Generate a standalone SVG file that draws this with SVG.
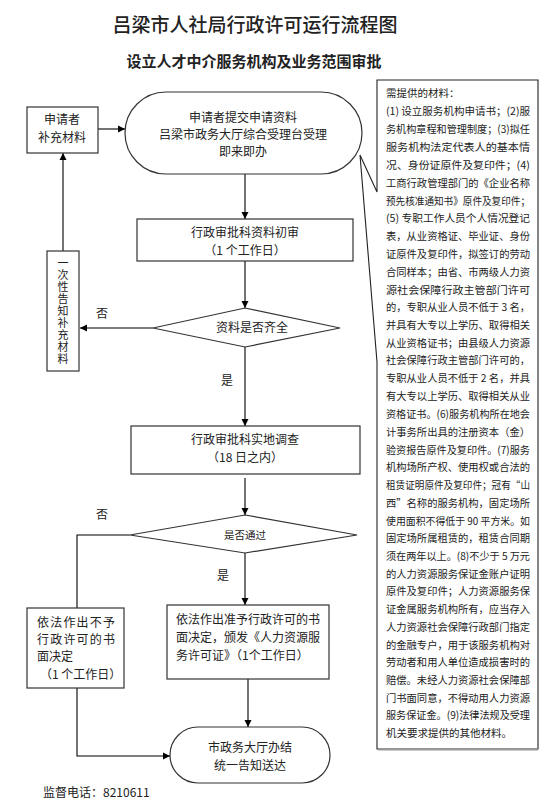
<svg xmlns="http://www.w3.org/2000/svg" width="556" height="807" viewBox="0 0 556 807">
<defs>
<marker id="ah" markerWidth="8" markerHeight="8" refX="7" refY="4" orient="auto" markerUnits="userSpaceOnUse">
<path d="M0,0.5 L7,4 L0,7.5 Z" fill="#000"/>
</marker>
<style>
text{font-family:"Noto Sans CJK SC","Noto Sans",sans-serif;fill:#222}
.t{font-size:12px;text-anchor:middle}
.v{font-size:11px;writing-mode:vertical-rl;letter-spacing:1px}
.s{font-size:12px}
.r{font-size:10.5px}
.box{fill:#fff;stroke:#333;stroke-width:1.2}
.ln{fill:none;stroke:#000;stroke-width:1.1}
</style>
</defs>
<rect width="556" height="807" fill="#fff"/>
<text x="255" y="32" style="font-size:19px;text-anchor:middle;font-weight:500">吕梁市人社局行政许可运行流程图</text>
<text x="254" y="67" style="font-size:15px;text-anchor:middle;font-weight:700">设立人才中介服务机构及业务范围审批</text>

<g id="connectors">
<line class="ln" x1="98" y1="129" x2="125" y2="129" marker-end="url(#ah)"/>
<line class="ln" x1="245" y1="174" x2="245" y2="219" marker-end="url(#ah)"/>
<line class="ln" x1="245" y1="261" x2="245" y2="308" marker-end="url(#ah)"/>
<line class="ln" x1="153" y1="328" x2="80" y2="328" marker-end="url(#ah)"/>
<line class="ln" x1="63" y1="251" x2="63" y2="153" marker-end="url(#ah)"/>
<line class="ln" x1="245" y1="347" x2="245" y2="426" marker-end="url(#ah)"/>
<line class="ln" x1="245" y1="478" x2="245" y2="515" marker-end="url(#ah)"/>
<polyline class="ln" points="130,535 77,535 77,608"/>
<line class="ln" x1="245" y1="553" x2="245" y2="605" marker-end="url(#ah)"/>
<line class="ln" x1="248" y1="679" x2="248" y2="727" marker-end="url(#ah)"/>
<polyline class="ln" points="77,688 77,756 170,756" marker-end="url(#ah)"/>
<text x="102" y="318" class="t">否</text>
<text x="227" y="385" class="t">是</text>
<text x="102" y="519" class="t">否</text>
<text x="223" y="580" class="t">是</text>
</g>

<g id="supplement">
<rect class="box" x="27" y="107" width="71" height="46"/>
<text x="62" y="124" class="t">申请者</text>
<text x="62" y="142" class="t">补充材料</text>
</g>

<g id="submit">
<rect class="box" x="125" y="92" width="237" height="82" rx="41" ry="41"/>
<text x="243" y="122" class="t">申请者提交申请资料</text>
<text x="243" y="139" class="t">吕梁市政务大厅综合受理台受理</text>
<text x="243" y="156" class="t">即来即办</text>
</g>

<g id="review">
<rect class="box" x="137" y="219" width="216" height="42"/>
<text x="245" y="237" class="t">行政审批科资料初审</text>
<text x="245" y="255" class="t">（1 个工作日）</text>
</g>

<g id="complete">
<polygon class="box" points="245,308 340,328 245,347 153,328"/>
<text x="252" y="332" class="t">资料是否齐全</text>
</g>

<g id="notify">
<rect class="box" x="47" y="251" width="32" height="120"/>
<text x="63" y="257" class="v">一次性告知补充材料</text>
</g>

<g id="survey">
<rect class="box" x="131" y="426" width="229" height="48"/>
<text x="245" y="444" class="t">行政审批科实地调查</text>
<text x="245" y="462" class="t">（18 日之内）</text>
</g>

<g id="pass">
<polygon class="box" points="245,515 357,535 245,553 130,535"/>
<text x="245" y="539" class="t" style="font-size:10.5px">是否通过</text>
</g>

<g id="deny">
<rect class="box" x="27" y="608" width="97" height="80"/>
<text x="37" y="627" class="s" textLength="78" lengthAdjust="spacing">依法作出不予</text>
<text x="37" y="644" class="s" textLength="78" lengthAdjust="spacing">行政许可的书</text>
<text x="37" y="661" class="s">面决定</text>
<text x="40" y="679" class="s">（1 个工作日）</text>
</g>

<g id="grant">
<rect class="box" x="167" y="605" width="162" height="74"/>
<text x="176" y="624" class="s" textLength="144" lengthAdjust="spacing">依法作出准予行政许可的书</text>
<text x="176" y="642" class="s" textLength="144" lengthAdjust="spacing">面决定，颁发《人力资源服</text>
<text x="176" y="660" class="s">务许可证》（1个工作日）</text>
</g>

<g id="finish">
<rect class="box" x="170" y="727" width="160" height="56" rx="28" ry="28"/>
<text x="250" y="752" class="t">市政务大厅办结</text>
<text x="250" y="770" class="t">统一告知送达</text>
</g>

<text x="43" y="797" class="s">监督电话：8210611</text>

<g id="materials">
<path d="M377,192 L377,80 L538,80 L538,749 L377,749 L377,362 L360,155 Z" fill="#fff" stroke="#222" stroke-width="1.1"/>
<line x1="378" y1="749.5" x2="538" y2="749.5" stroke="#999" stroke-width="2"/>
<g class="r">
<text x="386" y="97">需提供的材料：</text>
<text x="386" y="115" textLength="144" lengthAdjust="spacingAndGlyphs">(1) 设立服务机构申请书；(2)服</text>
<text x="386" y="133" textLength="144" lengthAdjust="spacingAndGlyphs">务机构章程和管理制度；(3)拟任</text>
<text x="386" y="151" textLength="144" lengthAdjust="spacingAndGlyphs">服务机构法定代表人的基本情</text>
<text x="386" y="169" textLength="144" lengthAdjust="spacingAndGlyphs">况、身份证原件及复印件；(4)</text>
<text x="386" y="187" textLength="144" lengthAdjust="spacingAndGlyphs">工商行政管理部门的《企业名称</text>
<text x="386" y="205" textLength="144" lengthAdjust="spacingAndGlyphs">预先核准通知书》原件及复印件；</text>
<text x="386" y="222" textLength="144" lengthAdjust="spacingAndGlyphs">(5) 专职工作人员个人情况登记</text>
<text x="386" y="240" textLength="144" lengthAdjust="spacingAndGlyphs">表，从业资格证、毕业证、身份</text>
<text x="386" y="258" textLength="144" lengthAdjust="spacingAndGlyphs">证原件及复印件，拟签订的劳动</text>
<text x="386" y="276" textLength="144" lengthAdjust="spacingAndGlyphs">合同样本；由省、市两级人力资</text>
<text x="386" y="294" textLength="144" lengthAdjust="spacingAndGlyphs">源社会保障行政主管部门许可</text>
<text x="386" y="311" textLength="144" lengthAdjust="spacingAndGlyphs">的，专职从业人员不低于 3 名，</text>
<text x="386" y="329" textLength="144" lengthAdjust="spacingAndGlyphs">并具有大专以上学历、取得相关</text>
<text x="386" y="347" textLength="144" lengthAdjust="spacingAndGlyphs">从业资格证书；由县级人力资源</text>
<text x="386" y="364" textLength="144" lengthAdjust="spacingAndGlyphs">社会保障行政主管部门许可的，</text>
<text x="386" y="382" textLength="144" lengthAdjust="spacingAndGlyphs">专职从业人员不低于 2 名，并具</text>
<text x="386" y="400" textLength="144" lengthAdjust="spacingAndGlyphs">有大专以上学历、取得相关从业</text>
<text x="386" y="418" textLength="144" lengthAdjust="spacingAndGlyphs">资格证书。(6)服务机构所在地会</text>
<text x="386" y="436" textLength="144" lengthAdjust="spacingAndGlyphs">计事务所出具的注册资本（金）</text>
<text x="386" y="454" textLength="144" lengthAdjust="spacingAndGlyphs">验资报告原件及复印件。(7)服务</text>
<text x="386" y="471" textLength="144" lengthAdjust="spacingAndGlyphs">机构场所产权、使用权或合法的</text>
<text x="386" y="489" textLength="144" lengthAdjust="spacingAndGlyphs">租赁证明原件及复印件；冠有“山</text>
<text x="386" y="507" textLength="144" lengthAdjust="spacingAndGlyphs">西”名称的服务机构，固定场所</text>
<text x="386" y="525" textLength="144" lengthAdjust="spacingAndGlyphs">使用面积不得低于 90 平方米。如</text>
<text x="386" y="542" textLength="144" lengthAdjust="spacingAndGlyphs">固定场所属租赁的，租赁合同期</text>
<text x="386" y="560" textLength="144" lengthAdjust="spacingAndGlyphs">须在两年以上。(8)不少于 5 万元</text>
<text x="386" y="578" textLength="144" lengthAdjust="spacingAndGlyphs">的人力资源服务保证金账户证明</text>
<text x="386" y="595" textLength="144" lengthAdjust="spacingAndGlyphs">原件及复印件；人力资源服务保</text>
<text x="386" y="613" textLength="144" lengthAdjust="spacingAndGlyphs">证金属服务机构所有，应当存入</text>
<text x="386" y="631" textLength="144" lengthAdjust="spacingAndGlyphs">人力资源社会保障行政部门指定</text>
<text x="386" y="649" textLength="144" lengthAdjust="spacingAndGlyphs">的金融专户，用于该服务机构对</text>
<text x="386" y="666" textLength="144" lengthAdjust="spacingAndGlyphs">劳动者和用人单位造成损害时的</text>
<text x="386" y="684" textLength="144" lengthAdjust="spacingAndGlyphs">赔偿。未经人力资源社会保障部</text>
<text x="386" y="702" textLength="144" lengthAdjust="spacingAndGlyphs">门书面同意，不得动用人力资源</text>
<text x="386" y="719" textLength="144" lengthAdjust="spacingAndGlyphs">服务保证金。(9)法律法规及受理</text>
<text x="386" y="737">机关要求提供的其他材料。</text>
</g>
</g>
</svg>
